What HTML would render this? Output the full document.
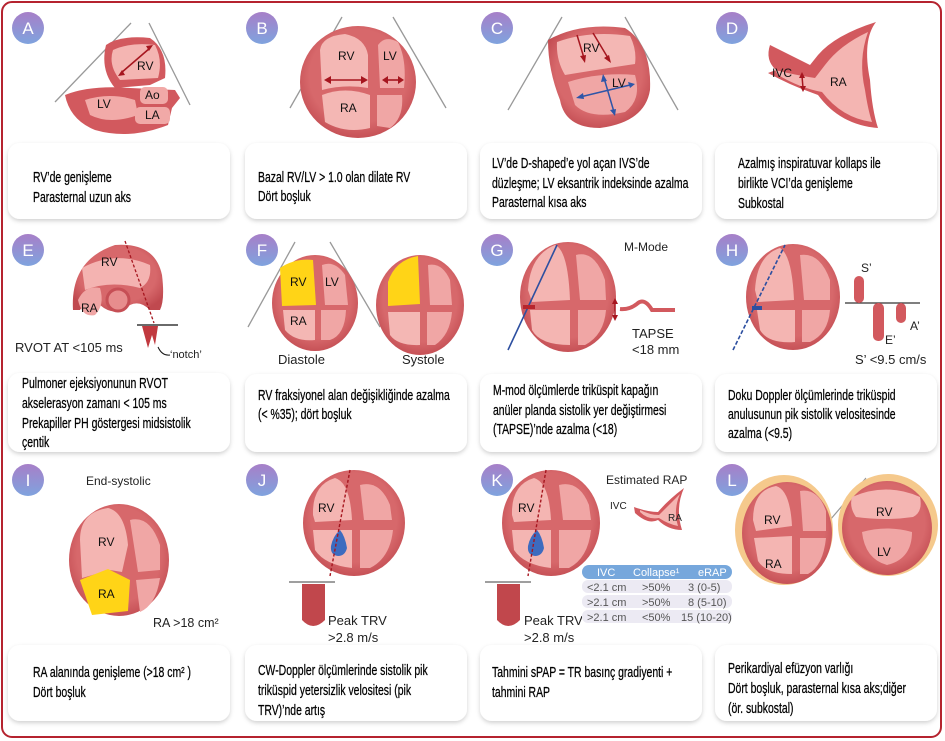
<!DOCTYPE html>
<html><head><meta charset="utf-8"><style>
html,body{margin:0;padding:0;background:#fff;}
svg{display:block;}
text{font-family:"Liberation Sans",sans-serif;}
.cap{font-size:14.5px;fill:#000;stroke:#000;stroke-width:0.25px;}
.lbl{font-size:12px;fill:#111;}
.bd{font-size:17px;fill:#fff;}
</style></head><body>
<svg width="945" height="741" viewBox="0 0 945 741" xmlns="http://www.w3.org/2000/svg">
<defs>
<linearGradient id="bg" x1="0" y1="0" x2="0" y2="1"><stop offset="0" stop-color="#a77fc8"/><stop offset="1" stop-color="#7fa3de"/></linearGradient>
<filter id="sh" x="-10%" y="-10%" width="120%" height="130%"><feDropShadow dx="0" dy="2" stdDeviation="2" flood-color="#000" flood-opacity="0.18"/></filter>
<radialGradient id="hw" cx="0.5" cy="0.45" r="0.6"><stop offset="0.7" stop-color="#d7686b"/><stop offset="1" stop-color="#c0494f"/></radialGradient>
</defs>
<rect x="2" y="2" width="939" height="735" rx="10" fill="#fff" stroke="#b5232f" stroke-width="2"/>

<g fill="#fff" filter="url(#sh)">
<rect x="8" y="143" width="222" height="76" rx="12"/>
<rect x="245" y="143" width="222" height="76" rx="12"/>
<rect x="480" y="143" width="222" height="76" rx="12"/>
<rect x="715" y="143" width="222" height="76" rx="12"/>
<rect x="8" y="373" width="222" height="79" rx="12"/>
<rect x="245" y="374" width="222" height="78" rx="12"/>
<rect x="480" y="374" width="222" height="78" rx="12"/>
<rect x="715" y="374" width="222" height="78" rx="12"/>
<rect x="8" y="645" width="222" height="76" rx="12"/>
<rect x="245" y="645" width="222" height="76" rx="12"/>
<rect x="480" y="645" width="222" height="76" rx="12"/>
<rect x="715" y="645" width="222" height="76" rx="12"/>
</g>

<g>
<circle cx="28" cy="28" r="16" fill="url(#bg)"/><text class="bd" x="28" y="34" text-anchor="middle">A</text>
<circle cx="262" cy="28" r="16" fill="url(#bg)"/><text class="bd" x="262" y="34" text-anchor="middle">B</text>
<circle cx="497" cy="28" r="16" fill="url(#bg)"/><text class="bd" x="497" y="34" text-anchor="middle">C</text>
<circle cx="732" cy="28" r="16" fill="url(#bg)"/><text class="bd" x="732" y="34" text-anchor="middle">D</text>
<circle cx="28" cy="250" r="16" fill="url(#bg)"/><text class="bd" x="28" y="256" text-anchor="middle">E</text>
<circle cx="262" cy="250" r="16" fill="url(#bg)"/><text class="bd" x="262" y="256" text-anchor="middle">F</text>
<circle cx="497" cy="250" r="16" fill="url(#bg)"/><text class="bd" x="497" y="256" text-anchor="middle">G</text>
<circle cx="732" cy="250" r="16" fill="url(#bg)"/><text class="bd" x="732" y="256" text-anchor="middle">H</text>
<circle cx="28" cy="480" r="16" fill="url(#bg)"/><text class="bd" x="28" y="486" text-anchor="middle">I</text>
<circle cx="262" cy="480" r="16" fill="url(#bg)"/><text class="bd" x="262" y="486" text-anchor="middle">J</text>
<circle cx="497" cy="480" r="16" fill="url(#bg)"/><text class="bd" x="497" y="486" text-anchor="middle">K</text>
<circle cx="732" cy="480" r="16" fill="url(#bg)"/><text class="bd" x="732" y="486" text-anchor="middle">L</text>
</g>

<g transform="translate(33,0) scale(0.72,1)" class="cap"><text x="0" y="182">RV’de genişleme</text><text x="0" y="202">Parasternal uzun aks</text></g>
<g transform="translate(258,0) scale(0.72,1)" class="cap"><text x="0" y="182">Bazal RV/LV &gt; 1.0 olan dilate RV</text><text x="0" y="201">Dört boşluk</text></g>
<g transform="translate(492,0) scale(0.72,1)" class="cap"><text x="0" y="168">LV’de D-shaped’e yol açan IVS’de</text><text x="0" y="188">düzleşme; LV eksantrik indeksinde azalma</text><text x="0" y="207">Parasternal kısa aks</text></g>
<g transform="translate(738,0) scale(0.72,1)" class="cap"><text x="0" y="168">Azalmış inspiratuvar kollaps ile</text><text x="0" y="188">birlikte VCI’da genişleme</text><text x="0" y="208">Subkostal</text></g>

<g transform="translate(22,0) scale(0.72,1)" class="cap"><text x="0" y="388">Pulmoner ejeksiyonunun RVOT</text><text x="0" y="408">akselerasyon zamanı &lt; 105 ms</text><text x="0" y="428">Prekapiller PH göstergesi midsistolik</text><text x="0" y="447">çentik</text></g>
<g transform="translate(258,0) scale(0.72,1)" class="cap"><text x="0" y="400">RV fraksiyonel alan değişikliğinde azalma</text><text x="0" y="419">(&lt; %35); dört boşluk</text></g>
<g transform="translate(493,0) scale(0.72,1)" class="cap"><text x="0" y="395">M-mod ölçümlerde triküspit kapağın</text><text x="0" y="415">anüler planda sistolik yer değiştirmesi</text><text x="0" y="434">(TAPSE)’nde azalma (&lt;18)</text></g>
<g transform="translate(728,0) scale(0.72,1)" class="cap"><text x="0" y="400">Doku Doppler  ölçümlerinde triküspid</text><text x="0" y="419">anulusunun pik sistolik velositesinde</text><text x="0" y="438">azalma (&lt;9.5)</text></g>

<g transform="translate(33,0) scale(0.72,1)" class="cap"><text x="0" y="677">RA alanında genişleme (&gt;18 cm² )</text><text x="0" y="697">Dört boşluk</text></g>
<g transform="translate(258,0) scale(0.72,1)" class="cap"><text x="0" y="675">CW-Doppler ölçümlerinde sistolik pik</text><text x="0" y="695">triküspid yetersizlik velositesi (pik</text><text x="0" y="715">TRV)’nde artış</text></g>
<g transform="translate(492,0) scale(0.72,1)" class="cap"><text x="0" y="677">Tahmini sPAP = TR basınç gradiyenti +</text><text x="0" y="697">tahmini RAP</text></g>
<g transform="translate(728,0) scale(0.72,1)" class="cap"><text x="0" y="673">Perikardiyal efüzyon varlığı</text><text x="0" y="693">Dört boşluk, parasternal kısa aks;diğer</text><text x="0" y="713">(ör. subkostal)</text></g>

<!-- PANEL A -->
<g>
<line x1="55" y1="102" x2="131" y2="23" stroke="#999" stroke-width="1.3"/>
<line x1="149" y1="23" x2="190" y2="105" stroke="#999" stroke-width="1.3"/>
<path d="M65 95 Q90 85 130 88 L175 90 L180 98 L172 108 L168 125 Q130 140 95 130 Q70 120 65 95Z" fill="#d2595e"/>
<path d="M85 100 Q110 92 135 100 L138 115 Q110 125 90 115Z" fill="#f2aaa8"/>
<path d="M106 45 Q120 35 150 38 Q168 50 165 78 L150 85 L115 88 Q100 70 106 45Z" fill="#d2595e"/>
<path d="M113 50 Q130 42 155 45 Q163 60 158 78 L120 80 Q108 65 113 50Z" fill="#f4b5b2"/>
<rect x="140" y="87" width="28" height="17" rx="5" fill="#f1a9a7"/>
<rect x="135" y="107" width="35" height="17" rx="5" fill="#f1a9a7"/>
<line x1="121" y1="73" x2="150" y2="48" stroke="#a6161f" stroke-width="1.6"/>
<path d="M118 76 l7 -1 l-3 -5Z M153 45 l-7 1 l3 5Z" fill="#a6161f"/>
<text class="lbl" x="137" y="70">RV</text><text class="lbl" x="97" y="108">LV</text>
<text class="lbl" x="145" y="99">Ao</text><text class="lbl" x="145" y="119">LA</text>
</g>

<!-- PANEL B -->
<g>
<line x1="290" y1="108" x2="342" y2="17" stroke="#999" stroke-width="1.3"/>
<line x1="393" y1="17" x2="446" y2="108" stroke="#999" stroke-width="1.3"/>
<ellipse cx="358" cy="82" rx="58" ry="56" fill="url(#hw)"/>
<path d="M320 50 Q322 36 345 34 Q365 38 368 55 L368 88 Q345 84 322 90Z" fill="#f4b7b4"/>
<path d="M378 45 Q385 35 398 42 Q407 60 404 88 L380 88Z" fill="#f0a6a5"/>
<path d="M322 95 Q345 86 370 95 L370 128 Q345 134 325 122Z" fill="#f4b7b4"/>
<path d="M377 95 L402 95 Q404 118 390 128 L377 126Z" fill="#f0a6a5"/>
<line x1="328" y1="80" x2="364" y2="80" stroke="#a6161f" stroke-width="1.6"/>
<path d="M324 80 l7 -4 v8Z M368 80 l-7 -4 v8Z" fill="#a6161f"/>
<line x1="386" y1="80" x2="400" y2="80" stroke="#a6161f" stroke-width="1.6"/>
<path d="M382 80 l6 -4 v8Z M404 80 l-6 -4 v8Z" fill="#a6161f"/>
<text class="lbl" x="338" y="60">RV</text><text class="lbl" x="383" y="60">LV</text><text class="lbl" x="340" y="112">RA</text>
</g>

<!-- PANEL C -->
<g>
<line x1="508" y1="110" x2="562" y2="17" stroke="#999" stroke-width="1.3"/>
<line x1="625" y1="17" x2="678" y2="110" stroke="#999" stroke-width="1.3"/>
<path d="M548 40 Q580 22 625 28 Q652 45 650 90 Q645 122 600 128 Q565 128 560 100 Q548 70 548 40Z" fill="url(#hw)"/>
<path d="M557 42 Q590 30 630 36 Q637 50 635 64 Q595 70 565 75 Q556 60 557 42Z" fill="#f4b7b4"/>
<path d="M568 82 Q600 72 635 75 Q642 100 625 112 Q590 120 575 105Z" fill="#f0a6a5"/>
<line x1="577" y1="35" x2="584" y2="58" stroke="#a6161f" stroke-width="1.5"/><path d="M585 63 l-5 -7 l6 -1Z" fill="#a6161f"/>
<line x1="593" y1="33" x2="608" y2="58" stroke="#a6161f" stroke-width="1.5"/><path d="M611 63 l-7 -5 l5 -3Z" fill="#a6161f"/>
<line x1="580" y1="97" x2="630" y2="85" stroke="#2d55a8" stroke-width="1.5"/><path d="M576 98 l7 -5 l1 6Z M635 84 l-7 -2 l2 6Z" fill="#2d55a8"/>
<line x1="604" y1="78" x2="614" y2="112" stroke="#2d55a8" stroke-width="1.5"/><path d="M603 74 l-2 8 l6 -1Z M615 116 l-5 -6 l6 -1Z" fill="#2d55a8"/>
<text class="lbl" x="583" y="52">RV</text><text class="lbl" x="612" y="87">LV</text>
</g>

<!-- PANEL D -->
<g>
<path d="M770 45 Q790 55 810 65 L818 55 Q835 35 876 22 Q862 40 870 80 Q872 110 878 128 Q840 125 818 95 L810 92 Q790 85 768 73 L776 70 Q765 60 770 45Z" fill="#d2595e"/>
<path d="M775 70 Q795 75 815 78 L825 65 Q840 45 868 32 Q858 60 865 90 Q868 110 872 122 Q842 118 822 92 Q800 88 778 75Z" fill="#f4b5b2"/>
<line x1="802" y1="76" x2="803" y2="88" stroke="#a6161f" stroke-width="1.5"/><path d="M802 72 l-3 6 h6Z M803 92 l-3 -6 h6Z" fill="#a6161f"/>
<text class="lbl" x="772" y="77">IVC</text><text class="lbl" x="830" y="86">RA</text>
</g>

<!-- PANEL E -->
<g>
<path d="M73 310 Q70 260 115 245 Q155 242 162 275 Q165 300 160 310 L150 310 Q140 300 130 305 Q115 318 100 305 Q85 300 80 310Z" fill="url(#hw)"/>
<path d="M82 268 Q115 250 150 265 Q152 282 140 288 Q110 280 85 290Z" fill="#f4b3b1"/>
<path d="M78 300 Q85 285 100 288 Q105 305 95 315 Q82 318 78 300Z" fill="#f0a6a5"/>
<circle cx="118" cy="300" r="11" fill="#e78d8d" stroke="#c64f55" stroke-width="3"/>
<line x1="125" y1="241" x2="154" y2="323" stroke="#a6161f" stroke-width="1.3" stroke-dasharray="3,2"/>
<line x1="137" y1="325" x2="178" y2="325" stroke="#111" stroke-width="1.2"/>
<path d="M142 326 L158 326 L155 345 L152 335 L148 348Z" fill="#c1393f"/>
<text class="lbl" x="101" y="266">RV</text><text class="lbl" x="81" y="312">RA</text>
<text x="15" y="352" style="font-size:13px;fill:#222">RVOT AT &lt;105 ms</text>
<text x="170" y="358" style="font-size:11px;fill:#222">‘notch’</text>
<path d="M158 347 Q162 356 170 355" fill="none" stroke="#111"/>
</g>

<!-- PANEL F -->
<g>
<line x1="248" y1="327" x2="295" y2="242" stroke="#999" stroke-width="1.3"/>
<line x1="330" y1="242" x2="380" y2="327" stroke="#999" stroke-width="1.3"/>
<ellipse cx="315" cy="303" rx="43" ry="48" fill="url(#hw)"/>
<path d="M280 268 Q295 258 313 260 L316 305 L282 306Z" fill="#ffd417"/>
<path d="M322 265 Q335 260 345 275 L348 305 L325 305Z" fill="#f0a6a5"/>
<path d="M283 310 L315 310 L315 340 Q295 342 285 330Z" fill="#f4b7b4"/>
<path d="M321 310 L346 310 Q345 335 330 340 L321 340Z" fill="#f0a6a5"/>
<text class="lbl" x="290" y="286">RV</text><text class="lbl" x="325" y="286">LV</text><text class="lbl" x="290" y="325">RA</text>
<ellipse cx="420" cy="305" rx="44" ry="50" fill="url(#hw)"/>
<path d="M388 282 Q395 260 418 256 L420 304 L388 306Z" fill="#ffd417"/>
<path d="M428 265 Q442 262 450 280 L452 305 L430 305Z" fill="#f0a6a5"/>
<path d="M388 312 L420 312 L420 345 Q398 346 390 335Z" fill="#f4b7b4"/>
<path d="M427 312 L452 312 Q450 335 435 345 L427 345Z" fill="#f0a6a5"/>
<text x="278" y="364" style="font-size:13px;fill:#222">Diastole</text>
<text x="402" y="364" style="font-size:13px;fill:#222">Systole</text>
</g>

<!-- PANEL G -->
<g>
<ellipse cx="568" cy="297" rx="48" ry="55" fill="url(#hw)"/>
<path d="M528 290 Q530 255 555 245 Q568 250 570 300 L532 302Z" fill="#f4b5b2"/>
<path d="M576 255 Q595 250 605 280 L606 300 L580 300Z" fill="#f0a6a5"/>
<path d="M530 310 L570 310 L570 345 Q540 345 532 330Z" fill="#f4b5b2"/>
<path d="M578 310 L606 310 Q604 335 585 345 L578 345Z" fill="#f0a6a5"/>
<line x1="508" y1="350" x2="557" y2="245" stroke="#2d4fa0" stroke-width="1.6"/>
<rect x="523" y="305" width="12" height="4" fill="#b7252d"/>
<line x1="615" y1="303" x2="615" y2="316" stroke="#a6161f" stroke-width="1.5"/><path d="M615 298 l-3 6 h6Z M615 321 l-3 -6 h6Z" fill="#a6161f"/>
<path d="M620 309 Q630 310 638 303 Q645 298 652 310 L675 310" fill="none" stroke="#d2595e" stroke-width="4"/>
<text x="624" y="251" style="font-size:12px;fill:#222">M-Mode</text>
<text x="632" y="338" style="font-size:13px;fill:#222">TAPSE</text>
<text x="632" y="354" style="font-size:13px;fill:#222">&lt;18 mm</text>
</g>

<!-- PANEL H -->
<g>
<ellipse cx="793" cy="297" rx="47" ry="53" fill="url(#hw)"/>
<path d="M755 290 Q757 255 780 248 Q792 255 794 300 L758 302Z" fill="#f4b5b2"/>
<path d="M800 255 Q820 252 830 280 L830 300 L804 300Z" fill="#f0a6a5"/>
<path d="M757 310 L795 310 L795 342 Q768 344 760 330Z" fill="#f4b5b2"/>
<path d="M802 310 L830 310 Q828 334 810 342 L802 342Z" fill="#f0a6a5"/>
<line x1="733" y1="350" x2="785" y2="245" stroke="#2d4fa0" stroke-width="1.6" stroke-dasharray="4,2"/>
<rect x="752" y="306" width="10" height="4" fill="#2d4fa0"/>
<line x1="845" y1="303" x2="920" y2="303" stroke="#333" stroke-width="1.2"/>
<rect x="854" y="276" width="10" height="27" rx="5" fill="#d2595e"/>
<rect x="873" y="303" width="11" height="38" rx="5" fill="#d2595e"/>
<rect x="896" y="303" width="10" height="20" rx="5" fill="#d2595e"/>
<text x="861" y="272" style="font-size:12px;fill:#222">S’</text>
<text x="885" y="344" style="font-size:12px;fill:#222">E’</text>
<text x="910" y="330" style="font-size:12px;fill:#222">A’</text>
<text x="855" y="364" style="font-size:13px;fill:#222">S’ &lt;9.5 cm/s</text>
</g>

<!-- PANEL I -->
<g>
<text x="86" y="485" style="font-size:12px;fill:#222">End-systolic</text>
<ellipse cx="119" cy="560" rx="50" ry="56" fill="url(#hw)"/>
<path d="M80 540 Q80 512 108 508 Q125 512 128 545 L122 572 L110 570 L82 578Z" fill="#f4b5b2"/>
<path d="M130 520 Q150 515 160 545 L160 570 L138 572Z" fill="#f0a6a5"/>
<path d="M80 580 L108 569 L130 580 L128 611 L92 615Z" fill="#ffd417"/>
<path d="M136 580 L160 578 Q156 605 140 612Z" fill="#f0a6a5"/>
<text class="lbl" x="98" y="546">RV</text><text class="lbl" x="98" y="598">RA</text>
<text x="153" y="627" style="font-size:12.5px;fill:#222">RA &gt;18 cm²</text>
</g>

<!-- PANEL J -->
<g>
<ellipse cx="354" cy="523" rx="51" ry="53" fill="url(#hw)"/>
<path d="M313 515 Q312 485 335 478 Q350 482 352 520 L315 522Z" fill="#f4b5b2"/>
<path d="M360 485 Q380 480 390 505 L392 520 L364 520Z" fill="#f0a6a5"/>
<path d="M313 530 L352 530 L352 568 Q325 565 315 550Z" fill="#f4b5b2"/>
<path d="M360 530 L393 530 Q390 558 370 568 L360 568Z" fill="#f0a6a5"/>
<path d="M340 530 Q345 536 347 548 Q345 556 338 556 Q330 555 331 546 Q333 536 340 530Z" fill="#3d6bbf"/>
<line x1="350" y1="470" x2="330" y2="576" stroke="#a6161f" stroke-width="1.4" stroke-dasharray="3,2"/>
<line x1="289" y1="582" x2="335" y2="582" stroke="#666" stroke-width="1.2"/>
<path d="M302 584 L325 584 L325 620 Q313 632 302 620Z" fill="#c1474c"/>
<text class="lbl" x="318" y="512">RV</text>
<text x="328" y="625" style="font-size:13px;fill:#222">Peak TRV</text>
<text x="328" y="642" style="font-size:13px;fill:#222">&gt;2.8 m/s</text>
</g>

<!-- PANEL K -->
<g>
<ellipse cx="551" cy="523" rx="49" ry="53" fill="url(#hw)"/>
<path d="M512 515 Q511 485 534 478 Q549 482 551 520 L514 522Z" fill="#f4b5b2"/>
<path d="M559 485 Q579 480 589 505 L591 520 L563 520Z" fill="#f0a6a5"/>
<path d="M512 530 L551 530 L551 568 Q524 565 514 550Z" fill="#f4b5b2"/>
<path d="M559 530 L591 530 Q588 558 569 568 L559 568Z" fill="#f0a6a5"/>
<path d="M537 530 Q542 536 544 548 Q542 556 535 556 Q527 555 528 546 Q530 536 537 530Z" fill="#3d6bbf"/>
<line x1="546" y1="470" x2="528" y2="576" stroke="#a6161f" stroke-width="1.4" stroke-dasharray="3,2"/>
<line x1="485" y1="582" x2="531" y2="582" stroke="#666" stroke-width="1.2"/>
<path d="M497 584 L520 584 L520 620 Q508 632 497 620Z" fill="#c1474c"/>
<text class="lbl" x="518" y="512">RV</text>
<text x="524" y="625" style="font-size:13px;fill:#222">Peak TRV</text>
<text x="524" y="642" style="font-size:13px;fill:#222">&gt;2.8 m/s</text>
<text x="606" y="484" style="font-size:12px;fill:#222">Estimated RAP</text>
<path d="M634 507 Q648 512 658 512 Q668 500 684 488 Q675 508 682 530 Q668 530 658 520 Q648 525 635 513Z" fill="#d2595e"/>
<path d="M640 510 Q650 515 659 515 Q669 505 680 494 Q673 510 678 526 Q668 524 659 518 Q648 520 640 512Z" fill="#f4b5b2"/>
<text x="610" y="509" style="font-size:10px;fill:#222">IVC</text>
<text x="668" y="521" style="font-size:10px;fill:#222">RA</text>
<rect x="582" y="565" width="150" height="14" rx="7" fill="#76a7dc"/>
<rect x="582" y="580" width="150" height="13" rx="6" fill="#eceaf3"/>
<rect x="582" y="595" width="150" height="13" rx="6" fill="#eceaf3"/>
<rect x="582" y="610" width="150" height="13" rx="6" fill="#eceaf3"/>
<g style="font-size:11px">
<text x="597" y="576" fill="#fff">IVC</text><text x="633" y="576" fill="#fff">Collapse¹</text><text x="698" y="576" fill="#fff">eRAP</text>
<text x="587" y="591" fill="#555">&lt;2.1 cm</text><text x="642" y="591" fill="#555">&gt;50%</text><text x="688" y="591" fill="#555">3 (0-5)</text>
<text x="587" y="606" fill="#555">&gt;2.1 cm</text><text x="642" y="606" fill="#555">&gt;50%</text><text x="688" y="606" fill="#555">8 (5-10)</text>
<text x="587" y="621" fill="#555">&gt;2.1 cm</text><text x="642" y="621" fill="#555">&lt;50%</text><text x="681" y="621" fill="#555">15 (10-20)</text>
</g>
</g>

<!-- PANEL L -->
<g>
<line x1="830" y1="520" x2="866" y2="478" stroke="#999" stroke-width="1.2"/>
<line x1="893" y1="478" x2="925" y2="510" stroke="#999" stroke-width="1.2"/>
<ellipse cx="784" cy="530" rx="49" ry="55" fill="#f5c98c"/>
<ellipse cx="787" cy="533" rx="45" ry="51" fill="url(#hw)"/>
<path d="M753 520 Q753 490 776 486 Q790 490 792 526 L756 531Z" fill="#f4b5b2"/>
<path d="M800 491 Q818 488 826 511 L826 531 L803 531Z" fill="#f0a6a5"/>
<path d="M754 538 L792 536 L792 574 Q766 574 758 561Z" fill="#f4b5b2"/>
<path d="M800 538 L826 538 Q823 566 808 574 L800 574Z" fill="#f0a6a5"/>
<text class="lbl" x="764" y="524">RV</text>
<text class="lbl" x="765" y="568">RA</text>
<ellipse cx="888" cy="525" rx="50" ry="51" fill="#f5c98c"/>
<ellipse cx="887" cy="528" rx="45" ry="47" fill="url(#hw)"/>
<path d="M852 497 Q886 482 920 497 Q923 512 913 517 Q886 521 856 517 Q849 507 852 497Z" fill="#f4b5b2"/>
<path d="M862 532 Q887 525 912 532 Q912 559 887 565 Q865 559 862 532Z" fill="#f0a6a5"/>
<text class="lbl" x="876" y="516">RV</text><text class="lbl" x="877" y="556">LV</text>
</g>
</svg>
</body></html>
